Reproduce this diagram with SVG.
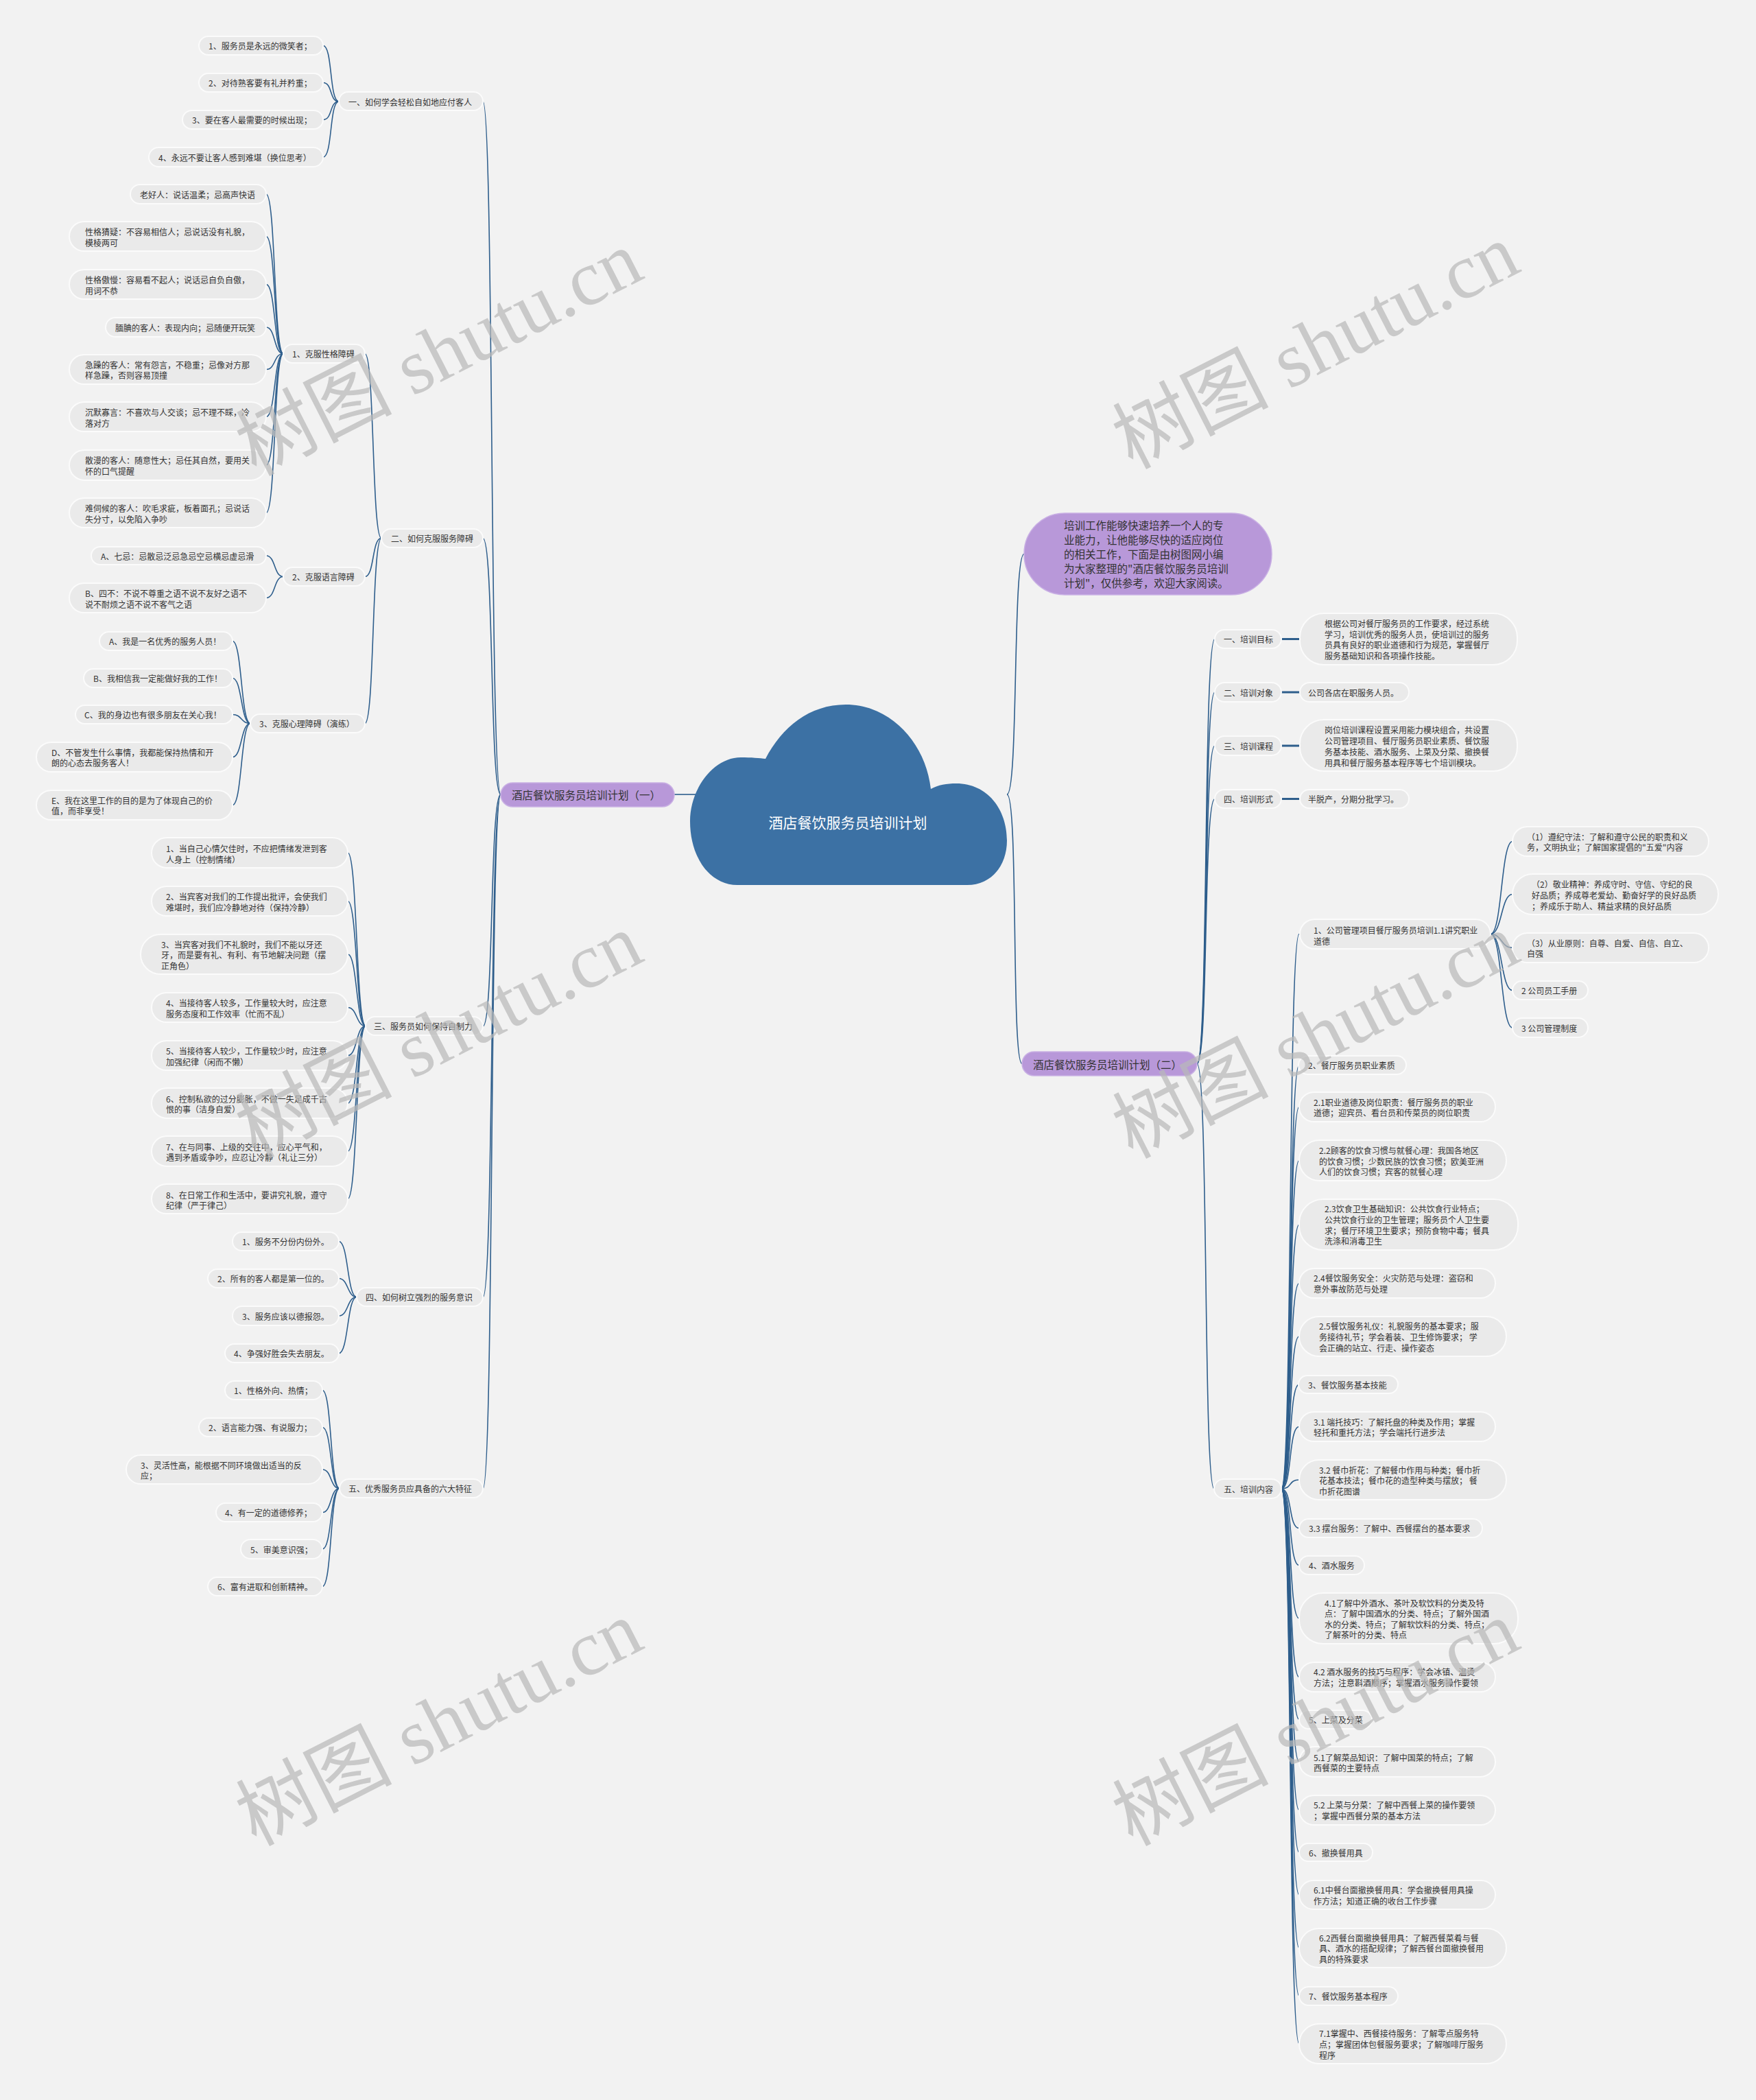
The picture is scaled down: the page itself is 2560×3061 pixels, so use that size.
<svg xmlns="http://www.w3.org/2000/svg" width="2560" height="3061" viewBox="0 0 2560 3061">
<style>
.n rect{fill:#eaeaea;stroke:#fbfbfb;stroke-width:2}
.p rect{fill:#b898d9;stroke:#c9b0e4;stroke-width:1.5}
text{font-family:"Noto Sans CJK SC","Microsoft YaHei",sans-serif;font-size:12px;fill:#333;dominant-baseline:central}
.big{font-size:15.5px}
.root{font-size:21px;fill:#fff;text-anchor:middle}
.c path{fill:none;stroke:#2e5e8c;stroke-width:1.6}
.c .h{stroke-width:3}
.wm{font-family:"Liberation Serif","Noto Sans CJK SC",serif;font-size:114px;font-weight:normal;fill:#b8b8b8;fill-opacity:0.72;text-anchor:middle;dominant-baseline:central}
</style>
<rect width="2560" height="3061" fill="#f2f2f2"/>

<g id="connectors" class="c">
<path d="M983,1158 L1014,1158"/>
<path d="M730,1158 C714,1158 720,148 704,148"/>
<path d="M730,1158 C714,1158 720,784.5 704,784.5"/>
<path d="M730,1158 C714,1158 720,1496 704,1496"/>
<path d="M730,1158 C714,1158 720,1891 704,1891"/>
<path d="M730,1158 C714,1158 720,2170 704,2170"/>
<path d="M494,148 C480,148 485,66.5 471,66.5"/>
<path d="M494,148 C480,148 485,120.5 471,120.5"/>
<path d="M494,148 C480,148 485,174.5 471,174.5"/>
<path d="M494,148 C480,148 485,229 471,229"/>
<path d="M556,784.5 C542,784.5 546,515.5 532,515.5"/>
<path d="M556,784.5 C542,784.5 546,840.5 532,840.5"/>
<path d="M556,784.5 C542,784.5 546,1054.5 532,1054.5"/>
<path d="M413,515.5 C399,515.5 402,283 388,283"/>
<path d="M413,515.5 C399,515.5 402,344.5 388,344.5"/>
<path d="M413,515.5 C399,515.5 402,414.5 388,414.5"/>
<path d="M413,515.5 C399,515.5 402,477 388,477"/>
<path d="M413,515.5 C399,515.5 402,538.5 388,538.5"/>
<path d="M413,515.5 C399,515.5 402,607.5 388,607.5"/>
<path d="M413,515.5 C399,515.5 402,678 388,678"/>
<path d="M413,515.5 C399,515.5 402,747.5 388,747.5"/>
<path d="M413,840.5 C399,840.5 402,810 388,810"/>
<path d="M413,840.5 C399,840.5 402,871.5 388,871.5"/>
<path d="M365,1054.5 C351,1054.5 353,934.5 339,934.5"/>
<path d="M365,1054.5 C351,1054.5 353,988.5 339,988.5"/>
<path d="M365,1054.5 C351,1054.5 353,1041.5 339,1041.5"/>
<path d="M365,1054.5 C351,1054.5 353,1103.5 339,1103.5"/>
<path d="M365,1054.5 C351,1054.5 353,1173.5 339,1173.5"/>
<path d="M533,1495.5 C519,1495.5 521,1243 507,1243"/>
<path d="M533,1495.5 C519,1495.5 521,1313.5 507,1313.5"/>
<path d="M533,1495.5 C519,1495.5 521,1391 507,1391"/>
<path d="M533,1495.5 C519,1495.5 521,1468.5 507,1468.5"/>
<path d="M533,1495.5 C519,1495.5 521,1538.5 507,1538.5"/>
<path d="M533,1495.5 C519,1495.5 521,1608 507,1608"/>
<path d="M533,1495.5 C519,1495.5 521,1678 507,1678"/>
<path d="M533,1495.5 C519,1495.5 521,1747.5 507,1747.5"/>
<path d="M520,1890.5 C506,1890.5 508,1809.5 494,1809.5"/>
<path d="M520,1890.5 C506,1890.5 508,1863.5 494,1863.5"/>
<path d="M520,1890.5 C506,1890.5 508,1918 494,1918"/>
<path d="M520,1890.5 C506,1890.5 508,1972.5 494,1972.5"/>
<path d="M495,2169.5 C481,2169.5 484,2026.5 470,2026.5"/>
<path d="M495,2169.5 C481,2169.5 484,2080.5 470,2080.5"/>
<path d="M495,2169.5 C481,2169.5 484,2142 470,2142"/>
<path d="M495,2169.5 C481,2169.5 484,2204.5 470,2204.5"/>
<path d="M495,2169.5 C481,2169.5 484,2258 470,2258"/>
<path d="M495,2169.5 C481,2169.5 484,2312.5 470,2312.5"/>

<path d="M1468,1158 C1485,1158 1476,807.5 1493,807.5"/>
<path d="M1468,1158 C1485,1158 1474,1550.5 1490,1550.5"/>
<path d="M1745,1550.5 C1762,1550.5 1754,931.5 1771,931.5"/>
<path d="M1745,1550.5 C1762,1550.5 1754,1009 1771,1009"/>
<path d="M1745,1550.5 C1762,1550.5 1754,1087 1771,1087"/>
<path d="M1745,1550.5 C1762,1550.5 1754,1164.5 1771,1164.5"/>
<path d="M1745,1550.5 C1762,1550.5 1754,2170 1770,2170"/>
<path class="h" d="M1868,931.5 L1895,931.5"/>
<path class="h" d="M1868,1009 L1895,1009"/>
<path class="h" d="M1868,1087 L1895,1087"/>
<path class="h" d="M1868,1164.5 L1895,1164.5"/>
<path d="M1868,2170 C1884,2170 1878,1361.5 1894,1361.5"/>
<path d="M1868,2170 C1884,2170 1878,1552.5 1894,1552.5"/>
<path d="M1868,2170 C1884,2170 1878,1613.5 1894,1613.5"/>
<path d="M1868,2170 C1884,2170 1878,1691.5 1894,1691.5"/>
<path d="M1868,2170 C1884,2170 1878,1785 1894,1785"/>
<path d="M1868,2170 C1884,2170 1878,1870.5 1894,1870.5"/>
<path d="M1868,2170 C1884,2170 1878,1948 1894,1948"/>
<path d="M1868,2170 C1884,2170 1878,2018 1894,2018"/>
<path d="M1868,2170 C1884,2170 1878,2079.5 1894,2079.5"/>
<path d="M1868,2170 C1884,2170 1878,2157 1894,2157"/>
<path d="M1868,2170 C1884,2170 1878,2227.5 1894,2227.5"/>
<path d="M1868,2170 C1884,2170 1878,2281.5 1894,2281.5"/>
<path d="M1868,2170 C1884,2170 1878,2359 1894,2359"/>
<path d="M1868,2170 C1884,2170 1878,2444.5 1894,2444.5"/>
<path d="M1868,2170 C1884,2170 1878,2506.5 1894,2506.5"/>
<path d="M1868,2170 C1884,2170 1878,2568 1894,2568"/>
<path d="M1868,2170 C1884,2170 1878,2638.5 1894,2638.5"/>
<path d="M1868,2170 C1884,2170 1878,2700 1894,2700"/>
<path d="M1868,2170 C1884,2170 1878,2762 1894,2762"/>
<path d="M1868,2170 C1884,2170 1878,2839.5 1894,2839.5"/>
<path d="M1868,2170 C1884,2170 1878,2909.5 1894,2909.5"/>
<path d="M1868,2170 C1884,2170 1878,2979 1894,2979"/>
<path d="M2173,1361.5 C2190,1361.5 2188,1226.5 2205,1226.5"/>
<path d="M2173,1361.5 C2190,1361.5 2188,1303.5 2205,1303.5"/>
<path d="M2173,1361.5 C2190,1361.5 2188,1381.5 2205,1381.5"/>
<path d="M2173,1361.5 C2190,1361.5 2188,1443.5 2205,1443.5"/>
<path d="M2173,1361.5 C2190,1361.5 2188,1498 2205,1498"/>
</g>

<g id="root">
<path d="M1116,1106 C1140,1060 1180,1027 1233,1027 C1300,1027 1350,1085 1357,1150 C1368,1144 1380,1142 1394,1142 C1440,1142 1468,1180 1468,1225 C1468,1262 1445,1290 1410,1290 L1075,1290 C1035,1290 1006,1250 1006,1197 C1006,1150 1040,1104 1080,1104 C1095,1104 1108,1105 1116,1106 Z" fill="#3c71a4"/>
<text class="root" x="1236" y="1198">酒店餐饮服务员培训计划</text>
</g>

<g id="main1" class="p"><rect x="730" y="1141" width="253" height="35" rx="17.5"/><text class="big" x="746" y="1158">酒店餐饮服务员培训计划（一）</text></g>
<g id="main2" class="p"><rect x="1490" y="1533" width="255" height="35" rx="17.5"/><text class="big" x="1506" y="1550.5">酒店餐饮服务员培训计划（二）</text></g>
<g id="intro" class="p"><rect x="1493" y="748" width="361" height="119" rx="59"/><text class="big"><tspan x="1551" y="765">培训工作能够快速培养一个人的专</tspan><tspan x="1551" y="786">业能力，让他能够尽快的适应岗位</tspan><tspan x="1551" y="807">的相关工作，下面是由树图网小编</tspan><tspan x="1551" y="828">为大家整理的"酒店餐饮服务员培训</tspan><tspan x="1551" y="849">计划"，仅供参考，欢迎大家阅读。</tspan></text></g>

<g id="n1" class="n"><rect x="494" y="134" width="210" height="27" rx="13.5"/><text x="508" y="148">一、如何学会轻松自如地应付客人</text></g>
<g id="a1" class="n"><rect x="290" y="53" width="181" height="27" rx="13.5"/><text x="304" y="66.5">1、服务员是永远的微笑者；</text></g>
<g id="a2" class="n"><rect x="290" y="107" width="181" height="27" rx="13.5"/><text x="304" y="120.5">2、对待熟客要有礼并矜重；</text></g>
<g id="a3" class="n"><rect x="266" y="161" width="205" height="27" rx="13.5"/><text x="280" y="174.5">3、要在客人最需要的时候出现；</text></g>
<g id="a4" class="n"><rect x="217" y="215" width="254" height="28" rx="14"/><text x="231" y="229">4、永远不要让客人感到难堪（换位思考）</text></g>

<g id="n2" class="n"><rect x="556" y="771" width="148" height="27" rx="13.5"/><text x="570" y="784.5">二、如何克服服务障碍</text></g>
<g id="b1" class="n"><rect x="413" y="502" width="119" height="27" rx="13.5"/><text x="426" y="515.5">1、克服性格障碍</text></g>
<g id="c1" class="n"><rect x="190" y="269" width="198" height="28" rx="14"/><text x="204" y="283">老好人：说话温柔；忌高声快语</text></g>
<g id="c2" class="n"><rect x="101" y="323" width="287" height="43" rx="21.5"/><text><tspan x="124" y="337">性格猜疑：不容易相信人；忌说话没有礼貌，</tspan><tspan x="124" y="353">模棱两可</tspan></text></g>
<g id="c3" class="n"><rect x="101" y="393" width="287" height="43" rx="21.5"/><text><tspan x="124" y="407">性格傲慢：容易看不起人；说话忌自负自傲，</tspan><tspan x="124" y="423">用词不恭</tspan></text></g>
<g id="c4" class="n"><rect x="154" y="463" width="234" height="28" rx="14"/><text x="168" y="477">腼腆的客人：表现内向；忌随便开玩笑</text></g>
<g id="c5" class="n"><rect x="101" y="517" width="287" height="43" rx="21.5"/><text><tspan x="124" y="531">急躁的客人：常有怨言，不稳重；忌像对方那</tspan><tspan x="124" y="546">样急躁，否则容易顶撞</tspan></text></g>
<g id="c6" class="n"><rect x="101" y="586" width="287" height="43" rx="21.5"/><text><tspan x="124" y="600">沉默寡言：不喜欢与人交谈；忌不理不睬，冷</tspan><tspan x="124" y="616">落对方</tspan></text></g>
<g id="c7" class="n"><rect x="101" y="656" width="287" height="44" rx="22"/><text><tspan x="124" y="670">散漫的客人：随意性大；忌任其自然，要用关</tspan><tspan x="124" y="686">怀的口气提醒</tspan></text></g>
<g id="c8" class="n"><rect x="101" y="726" width="287" height="43" rx="21.5"/><text><tspan x="124" y="740">难伺候的客人：吹毛求疵，板着面孔；忌说话</tspan><tspan x="124" y="756">失分寸，以免陷入争吵</tspan></text></g>
<g id="b2" class="n"><rect x="413" y="827" width="119" height="27" rx="13.5"/><text x="426" y="840.5">2、克服语言障碍</text></g>
<g id="d1" class="n"><rect x="133" y="797" width="255" height="26" rx="13"/><text x="147" y="810">A、七忌：忌散忌泛忌急忌空忌横忌虚忌滑</text></g>
<g id="d2" class="n"><rect x="101" y="850" width="287" height="43" rx="21.5"/><text><tspan x="124" y="864">B、四不：不说不尊重之语不说不友好之语不</tspan><tspan x="124" y="880">说不耐烦之语不说不客气之语</tspan></text></g>
<g id="b3" class="n"><rect x="365" y="1041" width="167" height="27" rx="13.5"/><text x="378" y="1054.5">3、克服心理障碍（演练）</text></g>
<g id="e1" class="n"><rect x="145" y="921" width="194" height="27" rx="13.5"/><text x="159" y="934.5">A、我是一名优秀的服务人员！</text></g>
<g id="e2" class="n"><rect x="122" y="975" width="217" height="27" rx="13.5"/><text x="136" y="988.5">B、我相信我一定能做好我的工作！</text></g>
<g id="e3" class="n"><rect x="110" y="1028" width="229" height="27" rx="13.5"/><text x="123" y="1041.5">C、我的身边也有很多朋友在关心我！</text></g>
<g id="e4" class="n"><rect x="53" y="1082" width="286" height="43" rx="21.5"/><text><tspan x="75" y="1096">D、不管发生什么事情，我都能保持热情和开</tspan><tspan x="75" y="1111">朗的心态去服务客人！</tspan></text></g>
<g id="e5" class="n"><rect x="53" y="1152" width="286" height="43" rx="21.5"/><text><tspan x="75" y="1166">E、我在这里工作的目的是为了体现自己的价</tspan><tspan x="75" y="1181">值，而非享受！</tspan></text></g>

<g id="n3" class="n"><rect x="533" y="1482" width="171" height="27" rx="13.5"/><text x="545" y="1495.5">三、服务员如何保持自制力</text></g>
<g id="f1" class="n"><rect x="221" y="1221" width="286" height="44" rx="22"/><text><tspan x="242" y="1236">1、当自己心情欠佳时，不应把情绪发泄到客</tspan><tspan x="242" y="1252">人身上（控制情绪）</tspan></text></g>
<g id="f2" class="n"><rect x="221" y="1292" width="286" height="43" rx="21.5"/><text><tspan x="242" y="1306">2、当宾客对我们的工作提出批评，会使我们</tspan><tspan x="242" y="1322">难堪时，我们应冷静地对待（保持冷静）</tspan></text></g>
<g id="f3" class="n"><rect x="205" y="1362" width="302" height="58" rx="29"/><text><tspan x="235" y="1376">3、当宾客对我们不礼貌时，我们不能以牙还</tspan><tspan x="235" y="1391">牙，而是要有礼、有利、有节地解决问题（摆</tspan><tspan x="235" y="1407">正角色）</tspan></text></g>
<g id="f4" class="n"><rect x="221" y="1447" width="286" height="43" rx="21.5"/><text><tspan x="242" y="1461">4、当接待客人较多，工作量较大时，应注意</tspan><tspan x="242" y="1477">服务态度和工作效率（忙而不乱）</tspan></text></g>
<g id="f5" class="n"><rect x="221" y="1517" width="286" height="43" rx="21.5"/><text><tspan x="242" y="1531">5、当接待客人较少，工作量较少时，应注意</tspan><tspan x="242" y="1547">加强纪律（闲而不懒）</tspan></text></g>
<g id="f6" class="n"><rect x="221" y="1586" width="286" height="44" rx="22"/><text><tspan x="242" y="1601">6、控制私欲的过分膨胀，不做一失足成千古</tspan><tspan x="242" y="1616">恨的事（洁身自爱）</tspan></text></g>
<g id="f7" class="n"><rect x="221" y="1656" width="286" height="44" rx="22"/><text><tspan x="242" y="1671">7、在与同事、上级的交往中，应心平气和，</tspan><tspan x="242" y="1686">遇到矛盾或争吵，应忍让冷静（礼让三分）</tspan></text></g>
<g id="f8" class="n"><rect x="221" y="1726" width="286" height="43" rx="21.5"/><text><tspan x="242" y="1741">8、在日常工作和生活中，要讲究礼貌，遵守</tspan><tspan x="242" y="1756">纪律（严于律己）</tspan></text></g>

<g id="n4" class="n"><rect x="520" y="1877" width="184" height="27" rx="13.5"/><text x="533" y="1890.5">四、如何树立强烈的服务意识</text></g>
<g id="g1" class="n"><rect x="339" y="1796" width="155" height="27" rx="13.5"/><text x="353" y="1809.5">1、服务不分份内份外。</text></g>
<g id="g2" class="n"><rect x="303" y="1850" width="191" height="27" rx="13.5"/><text x="317" y="1863.5">2、所有的客人都是第一位的。</text></g>
<g id="g3" class="n"><rect x="339" y="1904" width="155" height="28" rx="14"/><text x="353" y="1918">3、服务应该以德报怨。</text></g>
<g id="g4" class="n"><rect x="328" y="1959" width="166" height="27" rx="13.5"/><text x="341" y="1972.5">4、争强好胜会失去朋友。</text></g>

<g id="n5" class="n"><rect x="495" y="2156" width="209" height="27" rx="13.5"/><text x="508" y="2169.5">五、优秀服务员应具备的六大特征</text></g>
<g id="h1" class="n"><rect x="328" y="2013" width="142" height="27" rx="13.5"/><text x="341" y="2026.5">1、性格外向、热情；</text></g>
<g id="h2" class="n"><rect x="290" y="2067" width="180" height="27" rx="13.5"/><text x="304" y="2080.5">2、语言能力强、有说服力；</text></g>
<g id="h3" class="n"><rect x="184" y="2121" width="286" height="42" rx="21"/><text><tspan x="205" y="2135">3、灵活性高，能根据不同环境做出适当的反</tspan><tspan x="205" y="2150">应；</tspan></text></g>
<g id="h4" class="n"><rect x="315" y="2191" width="155" height="27" rx="13.5"/><text x="328" y="2204.5">4、有一定的道德修养；</text></g>
<g id="h5" class="n"><rect x="351" y="2244" width="119" height="28" rx="14"/><text x="365" y="2258">5、审美意识强；</text></g>
<g id="h6" class="n"><rect x="303" y="2299" width="167" height="27" rx="13.5"/><text x="317" y="2312.5">6、富有进取和创新精神。</text></g>

<g id="r1" class="n"><rect x="1771" y="918" width="97" height="27" rx="13.5"/><text x="1784" y="931.5">一、培训目标</text></g>
<g id="r1c" class="n"><rect x="1895" y="894" width="317" height="75" rx="35"/><text><tspan x="1931" y="908">根据公司对餐厅服务员的工作要求，经过系统</tspan><tspan x="1931" y="924">学习，培训优秀的服务人员，使培训过的服务</tspan><tspan x="1931" y="939">员具有良好的职业道德和行为规范，掌握餐厅</tspan><tspan x="1931" y="955">服务基础知识和各项操作技能。</tspan></text></g>
<g id="r2" class="n"><rect x="1771" y="995" width="97" height="28" rx="14"/><text x="1784" y="1009">二、培训对象</text></g>
<g id="r2c" class="n"><rect x="1895" y="995" width="159" height="28" rx="14"/><text x="1907" y="1009">公司各店在职服务人员。</text></g>
<g id="r3" class="n"><rect x="1771" y="1073" width="97" height="28" rx="14"/><text x="1784" y="1087">三、培训课程</text></g>
<g id="r3c" class="n"><rect x="1895" y="1049" width="317" height="75" rx="35"/><text><tspan x="1931" y="1063">岗位培训课程设置采用能力模块组合，共设置</tspan><tspan x="1931" y="1079">公司管理项目、餐厅服务员职业素质、餐饮服</tspan><tspan x="1931" y="1095">务基本技能、酒水服务、上菜及分菜、撤换餐</tspan><tspan x="1931" y="1111">用具和餐厅服务基本程序等七个培训模块。</tspan></text></g>
<g id="r4" class="n"><rect x="1771" y="1151" width="97" height="27" rx="13.5"/><text x="1784" y="1164.5">四、培训形式</text></g>
<g id="r4c" class="n"><rect x="1895" y="1151" width="159" height="27" rx="13.5"/><text x="1907" y="1164.5">半脱产，分期分批学习。</text></g>
<g id="r5" class="n"><rect x="1770" y="2156" width="98" height="28" rx="14"/><text x="1784" y="2170">五、培训内容</text></g>

<g id="s1" class="n"><rect x="1895" y="1340" width="278" height="43" rx="21.5"/><text><tspan x="1915" y="1355">1、公司管理项目餐厅服务员培训1.1讲究职业</tspan><tspan x="1915" y="1371">道德</tspan></text></g>
<g id="t1" class="n"><rect x="2205" y="1205" width="286" height="43" rx="21.5"/><text><tspan x="2226" y="1219">（1）遵纪守法：了解和遵守公民的职责和义</tspan><tspan x="2226" y="1234">务，文明执业；了解国家提倡的"五爱"内容</tspan></text></g>
<g id="t2" class="n"><rect x="2205" y="1274" width="300" height="59" rx="29.5"/><text><tspan x="2233" y="1288">（2）敬业精神：养成守时、守信、守纪的良</tspan><tspan x="2233" y="1304">好品质；养成尊老爱幼、勤奋好学的良好品质</tspan><tspan x="2233" y="1320">；养成乐于助人、精益求精的良好品质</tspan></text></g>
<g id="t3" class="n"><rect x="2205" y="1360" width="286" height="43" rx="21.5"/><text><tspan x="2226" y="1374">（3）从业原则：自尊、自爱、自信、自立、</tspan><tspan x="2226" y="1389">自强</tspan></text></g>
<g id="t4" class="n"><rect x="2205" y="1430" width="110" height="27" rx="13.5"/><text x="2218" y="1443.5">2 公司员工手册</text></g>
<g id="t5" class="n"><rect x="2205" y="1484" width="110" height="28" rx="14"/><text x="2218" y="1498">3 公司管理制度</text></g>
<g id="s2" class="n"><rect x="1893" y="1539" width="157" height="27" rx="13.5"/><text x="1907" y="1552.5">2、餐厅服务员职业素质</text></g>
<g id="s3" class="n"><rect x="1894" y="1592" width="286" height="43" rx="21.5"/><text><tspan x="1915" y="1606">2.1职业道德及岗位职责：餐厅服务员的职业</tspan><tspan x="1915" y="1621">道德；迎宾员、看台员和传菜员的岗位职责</tspan></text></g>
<g id="s4" class="n"><rect x="1894" y="1662" width="302" height="59" rx="29.5"/><text><tspan x="1923" y="1676">2.2顾客的饮食习惯与就餐心理：我国各地区</tspan><tspan x="1923" y="1692">的饮食习惯；少数民族的饮食习惯；欧美亚洲</tspan><tspan x="1923" y="1707">人们的饮食习惯；宾客的就餐心理</tspan></text></g>
<g id="s5" class="n"><rect x="1894" y="1748" width="319" height="74" rx="35"/><text><tspan x="1931" y="1761">2.3饮食卫生基础知识：公共饮食行业特点；</tspan><tspan x="1931" y="1777">公共饮食行业的卫生管理；服务员个人卫生要</tspan><tspan x="1931" y="1793">求；餐厅环境卫生要求；预防食物中毒；餐具</tspan><tspan x="1931" y="1808">洗涤和消毒卫生</tspan></text></g>
<g id="s6" class="n"><rect x="1894" y="1849" width="286" height="43" rx="21.5"/><text><tspan x="1915" y="1862">2.4餐饮服务安全：火灾防范与处理：盗窃和</tspan><tspan x="1915" y="1878">意外事故防范与处理</tspan></text></g>
<g id="s7" class="n"><rect x="1894" y="1919" width="302" height="58" rx="29"/><text><tspan x="1923" y="1932">2.5餐饮服务礼仪：礼貌服务的基本要求；服</tspan><tspan x="1923" y="1948">务接待礼节；学会着装、卫生修饰要求； 学</tspan><tspan x="1923" y="1964">会正确的站立、行走、操作姿态</tspan></text></g>
<g id="s8" class="n"><rect x="1893" y="2005" width="145" height="26" rx="13"/><text x="1907" y="2018">3、餐饮服务基本技能</text></g>
<g id="s9" class="n"><rect x="1894" y="2058" width="286" height="43" rx="21.5"/><text><tspan x="1915" y="2072">3.1 端托技巧：了解托盘的种类及作用；掌握</tspan><tspan x="1915" y="2087">轻托和重托方法；学会端托行进步法</tspan></text></g>
<g id="s10" class="n"><rect x="1894" y="2128" width="302" height="58" rx="29"/><text><tspan x="1923" y="2142">3.2 餐巾折花：了解餐巾作用与种类；餐巾折</tspan><tspan x="1923" y="2157">花基本技法；餐巾花的造型种类与摆放； 餐</tspan><tspan x="1923" y="2173">巾折花图谱</tspan></text></g>
<g id="s11" class="n"><rect x="1894" y="2214" width="267" height="27" rx="13.5"/><text x="1908" y="2227.5">3.3 摆台服务：了解中、西餐摆台的基本要求</text></g>
<g id="s12" class="n"><rect x="1894" y="2268" width="95" height="27" rx="13.5"/><text x="1908" y="2281.5">4、酒水服务</text></g>
<g id="s13" class="n"><rect x="1894" y="2322" width="319" height="74" rx="35"/><text><tspan x="1931" y="2336">4.1了解中外酒水、茶叶及软饮料的分类及特</tspan><tspan x="1931" y="2351">点：了解中国酒水的分类、特点；了解外国酒</tspan><tspan x="1931" y="2367">水的分类、特点；了解软饮料的分类、特点；</tspan><tspan x="1931" y="2382">了解茶叶的分类、特点</tspan></text></g>
<g id="s14" class="n"><rect x="1894" y="2423" width="286" height="43" rx="21.5"/><text><tspan x="1915" y="2436">4.2 酒水服务的技巧与程序：学会冰镇、温烫</tspan><tspan x="1915" y="2452">方法；注意斟酒顺序；掌握酒水服务操作要领</tspan></text></g>
<g id="s15" class="n"><rect x="1894" y="2493" width="106" height="27" rx="13.5"/><text x="1908" y="2506.5">5、上菜及分菜</text></g>
<g id="s16" class="n"><rect x="1894" y="2546" width="286" height="44" rx="22"/><text><tspan x="1915" y="2561">5.1了解菜品知识：了解中国菜的特点；了解</tspan><tspan x="1915" y="2576">西餐菜的主要特点</tspan></text></g>
<g id="s17" class="n"><rect x="1894" y="2617" width="286" height="43" rx="21.5"/><text><tspan x="1915" y="2630">5.2 上菜与分菜：了解中西餐上菜的操作要领</tspan><tspan x="1915" y="2646">；掌握中西餐分菜的基本方法</tspan></text></g>
<g id="s18" class="n"><rect x="1894" y="2687" width="107" height="26" rx="13"/><text x="1908" y="2700">6、撤换餐用具</text></g>
<g id="s19" class="n"><rect x="1894" y="2741" width="286" height="42" rx="21"/><text><tspan x="1915" y="2754">6.1中餐台面撤换餐用具：学会撤换餐用具操</tspan><tspan x="1915" y="2770">作方法；知道正确的收台工作步骤</tspan></text></g>
<g id="s20" class="n"><rect x="1894" y="2811" width="302" height="57" rx="28.5"/><text><tspan x="1923" y="2824">6.2西餐台面撤换餐用具：了解西餐菜肴与餐</tspan><tspan x="1923" y="2839">具、酒水的搭配规律；了解西餐台面撤换餐用</tspan><tspan x="1923" y="2855">具的特殊要求</tspan></text></g>
<g id="s21" class="n"><rect x="1894" y="2896" width="144" height="27" rx="13.5"/><text x="1908" y="2909.5">7、餐饮服务基本程序</text></g>
<g id="s22" class="n"><rect x="1894" y="2950" width="302" height="58" rx="29"/><text><tspan x="1923" y="2963">7.1掌握中、西餐接待服务：了解零点服务特</tspan><tspan x="1923" y="2979">点；掌握团体包餐服务要求；了解咖啡厅服务</tspan><tspan x="1923" y="2995">程序</tspan></text></g>

<g id="watermarks">
<text class="wm" transform="translate(640,515) rotate(-27)">树图 shutu.cn</text>
<text class="wm" transform="translate(1918,505) rotate(-27)">树图 shutu.cn</text>
<text class="wm" transform="translate(640,1510) rotate(-27)">树图 shutu.cn</text>
<text class="wm" transform="translate(1918,1510) rotate(-27)">树图 shutu.cn</text>
<text class="wm" transform="translate(640,2512) rotate(-27)">树图 shutu.cn</text>
<text class="wm" transform="translate(1918,2512) rotate(-27)">树图 shutu.cn</text>
</g>
</svg>
